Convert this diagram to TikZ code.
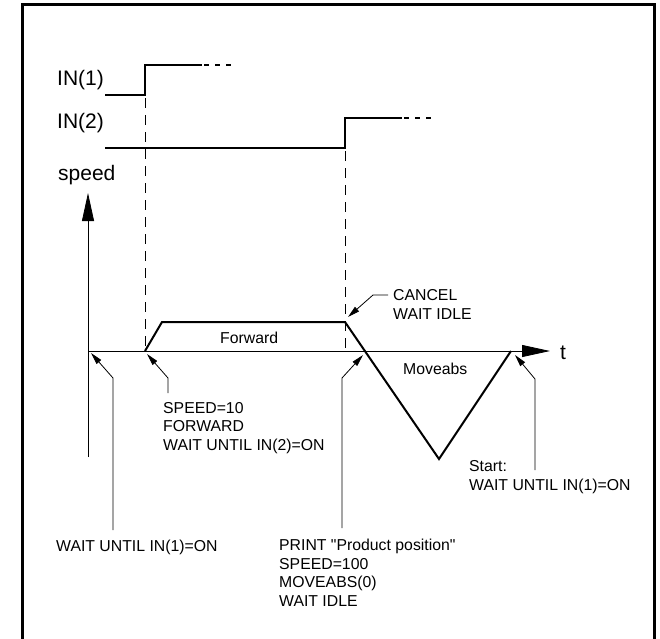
\documentclass[tikz,border=0pt]{standalone}
\usepackage{fontspec}
\setmainfont{Liberation Sans}[Ligatures=TeXOff]
\usetikzlibrary{arrows.meta}

\begin{document}
\begin{tikzpicture}[x=1pt,y=-1pt,
  big/.style={font=\fontsize{21}{24}\selectfont, inner sep=0pt, anchor=base west},
  note/.style={font=\fontsize{15.8}{18.4}\selectfont, inner sep=0pt, anchor=base west, align=left},
  sig/.style={line width=2pt, line join=miter},
  tail/.style={line width=2pt, dash pattern=on 5pt off 6pt, dash phase=9pt},
  axis/.style={line width=0.8pt, -{Triangle[length=28pt,width=12pt]}},
  guide/.style={line width=0.8pt, dash pattern=on 10pt off 7pt, dash phase=-3pt},
  lead/.style={line width=0.8pt, -{Triangle[length=12pt,width=6pt]}},
  frm/.style={line width=3pt}]
\useasboundingbox (0,0) rectangle (660,638);
\draw[frm] (22.5,645) -- (22.5,4.5) -- (654,4.5) -- (654,645);
% inputs
\coordinate (i1a) at (105,95);  \coordinate (i1b) at (145,95);
\coordinate (i1c) at (145,65);  \coordinate (i1d) at (202,65);
\coordinate (i1e) at (231,65);
\coordinate (i2a) at (105,148); \coordinate (i2b) at (345,148);
\coordinate (i2c) at (345,118); \coordinate (i2d) at (402,118);
\coordinate (i2e) at (431,118);
\node[big] (in1) at (57,85)  {IN(1)};
\node[big] (in2) at (57,128) {IN(2)};
\draw[sig] (i1a) -- (i1b) -- (i1c) -- (i1d);
\draw[tail] (i1d) -- (i1e);
\draw[sig] (i2a) -- (i2b) -- (i2c) -- (i2d);
\draw[tail] (i2d) -- (i2e);
% speed profile
\coordinate (O)  at (88,351);
\coordinate (p0) at (145,351); \coordinate (p1) at (162,322);
\coordinate (p2) at (345,322); \coordinate (p3) at (439,459);
\coordinate (p4) at (511,351);
\coordinate (vb) at (88,457);  \coordinate (vt) at (88,193);
\coordinate (ht) at (550,351);
\node[big] (spd) at (58,180) {speed};
\node[big] (tl)  at (560,359) {t};
\draw[axis] (vb) -- (vt);
\draw[axis] (O) -- (ht);
\draw[guide] (i1b) -- (p0);
\draw[guide] (i2b) -- (i2b |- O);
\draw[sig] (p0) -- (p1) -- (p2) -- (p3) -- (p4);
\node[note] (fwd)  at (220,343) {Forward};
\node[note] (mabs) at (403,374) {Moveabs};
% program notes (base = last line)
\node[note] (cncl) at (393,319) {CANCEL\\WAIT IDLE};
\node[note] (w1)   at (56,551)  {WAIT UNTIL IN(1)=ON};
\node[note] (s10)  at (163,450) {SPEED=10\\FORWARD\\WAIT UNTIL IN(2)=ON};
\node[note] (prt)  at (279,606) {PRINT "Product position"\\SPEED=100\\MOVEABS(0)\\WAIT IDLE};
\node[note] (st)   at (469,490) {Start:\\WAIT UNTIL IN(1)=ON};
\coordinate (cs) at (388,295); \coordinate (ck) at (373,295); \coordinate (ct) at (348,317);
\coordinate (ws) at (113,530); \coordinate (wk) at (113,378); \coordinate (wt) at (91,353);
\coordinate (ss) at (168,393); \coordinate (sk) at (168,378); \coordinate (st1) at (147,354);
\coordinate (ps) at (342,528); \coordinate (pk) at (342,378); \coordinate (pt) at (363,355);
\coordinate (rs) at (535,470); \coordinate (rk) at (535,379); \coordinate (rt) at (515,355);
\draw[lead] (cs) -- (ck) -- (ct);
\draw[lead] (ws) -- (wk) -- (wt);
\draw[lead] (ss) -- (sk) -- (st1);
\draw[lead] (ps) -- (pk) -- (pt);
\draw[lead] (rs) -- (rk) -- (rt);
\end{tikzpicture}
\end{document}
